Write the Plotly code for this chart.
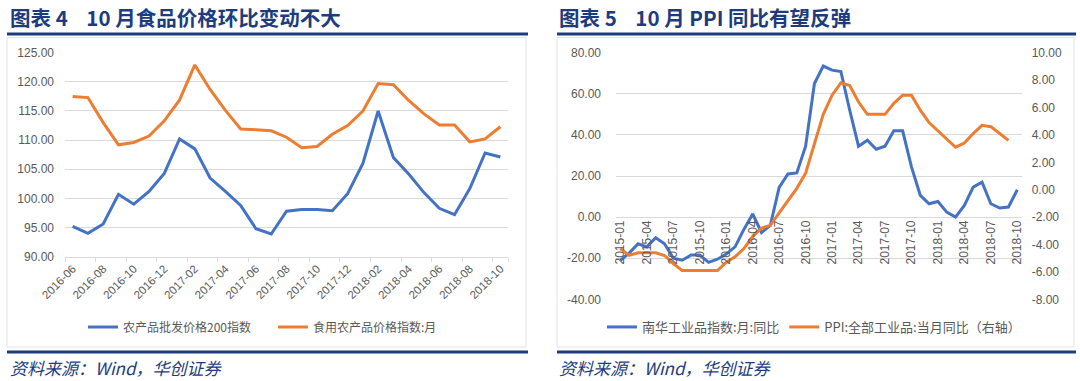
import plotly.graph_objects as go

W, H = 1080, 381

# ---------------- data ----------------
left_months = ["2016-06", "2016-07", "2016-08", "2016-09", "2016-10", "2016-11", "2016-12",
               "2017-01", "2017-02", "2017-03", "2017-04", "2017-05", "2017-06", "2017-07",
               "2017-08", "2017-09", "2017-10", "2017-11", "2017-12", "2018-01", "2018-02",
               "2018-03", "2018-04", "2018-05", "2018-06", "2018-07", "2018-08", "2018-09",
               "2018-10"]
farm_200 = [95.2, 94.0, 95.6, 100.7, 99.0, 101.2, 104.3, 110.2, 108.5, 103.5, 101.2, 98.8,
            94.8, 93.9, 97.8, 98.1, 98.1, 97.9, 100.8, 106.0, 115.0, 107.0, 104.2, 101.0,
            98.3, 97.2, 101.7, 107.8, 107.1]
food_price = [117.5, 117.3, 113.0, 109.2, 109.6, 110.7, 113.3, 116.9, 122.9, 118.7, 115.1,
              111.9, 111.8, 111.6, 110.5, 108.7, 108.9, 111.0, 112.5, 115.0, 119.7, 119.5,
              116.8, 114.5, 112.6, 112.6, 109.7, 110.2, 112.3]
left_yticks = [90, 95, 100, 105, 110, 115, 120, 125]

right_months = [f"{y}-{m:02d}" for y in (2015, 2016, 2017, 2018) for m in range(1, 13)][:46]
nanhua = [-21, -17.5, -13, -14.5, -10, -13, -20, -21, -18.5, -18.5, -22, -20.5,
          -18, -14.5, -6, 1.5, -7.5, -4, 14.5, 21, 21.5, 34.5, 65, 73.5,
          71.5, 70.8, 52, 34.5, 37.4, 33, 34.5, 42, 42, 24.4, 10.6, 6.5,
          7.6, 2.4, 0, 5.7, 14.6, 17, 6.5, 4.4, 4.9, 13.3]
ppi = [-4.3, -4.8, -4.6, -4.6, -4.6, -4.8, -5.4, -5.9, -5.9, -5.9, -5.9, -5.9,
       -5.3, -4.9, -4.3, -3.4, -2.8, -2.6, -1.7, -0.8, 0.1, 1.2, 3.3, 5.5,
       6.9, 7.8, 7.6, 6.4, 5.5, 5.5, 5.5, 6.3, 6.9, 6.9, 5.8, 4.9,
       4.3, 3.7, 3.1, 3.4, 4.1, 4.7, 4.6, 4.1, 3.6, None]
right_yticks_l = [-40, -20, 0, 20, 40, 60, 80]
right_yticks_r = [-8, -6, -4, -2, 0, 2, 4, 6, 8, 10]

# ---------------- style ----------------
BLUE = "#4472C4"
ORANGE = "#ED7D31"
NAVY = "#1D3C7E"
GRID = "#D9D9D9"
TXT = "#595959"
TICKFONT = dict(family="Liberation Sans", size=12, color=TXT)
CJK = "Noto Sans CJK SC"


def px(x):
    return x / W


def py(y):
    return 1 - y / H


fig = go.Figure()

# left chart
fig.add_trace(go.Scatter(x=left_months, y=farm_200, name="农产品批发价格200指数", mode="lines",
                         line=dict(color=BLUE, width=3), xaxis="x", yaxis="y", legend="legend"))
fig.add_trace(go.Scatter(x=left_months, y=food_price, name="食用农产品价格指数:月", mode="lines",
                         line=dict(color=ORANGE, width=3), xaxis="x", yaxis="y", legend="legend"))
# right chart
fig.add_trace(go.Scatter(x=right_months, y=nanhua, name="南华工业品指数:月:同比", mode="lines",
                         line=dict(color=BLUE, width=3), xaxis="x2", yaxis="y3", legend="legend2"))
fig.add_trace(go.Scatter(x=right_months, y=ppi, name="PPI:全部工业品:当月同比（右轴）", mode="lines",
                         line=dict(color=ORANGE, width=3), xaxis="x2", yaxis="y4", legend="legend2"))

L_top, L_bot = 52.7, 256.7
R_top, R_bot = 52.7, 299.3
r_dom = [py(R_bot), py(R_top)]
zero_pos = r_dom[0] + (r_dom[1] - r_dom[0]) * 40 / 120

legend_common = dict(orientation="h", xanchor="left", y=py(327), yanchor="middle",
                     bgcolor="rgba(0,0,0,0)")

fig.update_layout(
    template="none",
    width=W, height=H,
    margin=dict(l=0, r=0, t=0, b=0, autoexpand=False),
    paper_bgcolor="white", plot_bgcolor="white",
    xaxis=dict(domain=[px(65), px(508)], type="category", range=[-0.5, len(left_months) - 0.5],
               tickvals=left_months[::2], ticktext=left_months[::2], tickangle=-45,
               tickson="boundaries", ticks="outside", ticklen=4, tickcolor=GRID,
               showgrid=False, showline=True, linecolor=GRID, linewidth=1, automargin=False,
               tickfont=dict(family="Liberation Sans", size=11.5, color=TXT), anchor="y"),
    yaxis=dict(domain=[py(L_bot), py(L_top)], range=[90, 125], tickvals=left_yticks,
               ticktext=[f"{v:.2f}" for v in left_yticks], showgrid=True, gridcolor=GRID,
               gridwidth=1, zeroline=False, showline=False, ticks="", ticklabelstandoff=10,
               automargin=False, tickfont=TICKFONT, anchor="x"),
    xaxis2=dict(domain=[px(616), px(1021.7)], type="category", range=[-0.5, len(right_months) - 0.5],
                tickvals=right_months[::3], ticktext=right_months[::3], tickangle=-90,
                ticks="", showgrid=False, showline=False, anchor="free", position=zero_pos,
                automargin=False, tickfont=dict(family="Liberation Sans", size=12, color=TXT)),
    yaxis3=dict(domain=r_dom, range=[-40, 80], tickvals=right_yticks_l,
                ticktext=[f"{v:.2f}" for v in right_yticks_l], showgrid=True, gridcolor=GRID,
                zeroline=False, showline=False, ticks="", ticklabelstandoff=14,
                automargin=False, tickfont=TICKFONT, anchor="x2"),
    yaxis4=dict(domain=r_dom, range=[-8, 10], tickvals=right_yticks_r,
                ticktext=[f"{v:.2f}" for v in right_yticks_r], overlaying="y3", side="right",
                showgrid=False, zeroline=False, showline=False, ticks="", ticklabelstandoff=9,
                automargin=False, tickfont=TICKFONT, anchor="x2"),
    legend=dict(x=px(83), font=dict(family=CJK, size=12, color=TXT),
                entrywidth=145, entrywidthmode="pixels", **legend_common),
    legend2=dict(x=px(602), font=dict(family=CJK, size=13, color=TXT), **legend_common),
    showlegend=True,
)

shapes = []
for (x0, x1, fx1) in [(7, 528, 526), (557, 1076, 1074)]:
    shapes.append(dict(type="rect", xref="paper", yref="paper", x0=px(x0), x1=px(fx1),
                       y0=py(347), y1=py(37.5), line=dict(color="#E3E3E3", width=1)))
    shapes.append(dict(type="line", xref="paper", yref="paper", x0=px(x0), x1=px(x1),
                       y0=py(34), y1=py(34), line=dict(color=NAVY, width=3)))
    shapes.append(dict(type="line", xref="paper", yref="paper", x0=px(x0), x1=px(x1),
                       y0=py(352), y1=py(352), line=dict(color=NAVY, width=3)))
fig.update_layout(shapes=shapes)

annotations = [
    dict(text="<b>图表 4    10 月食品价格环比变动不大</b>", x=px(8), y=py(17)),
    dict(text="<b>图表 5    10 月 PPI 同比有望反弹</b>", x=px(557), y=py(17)),
]
for a in annotations:
    a.update(xref="paper", yref="paper", xanchor="left", yanchor="middle", showarrow=False,
             font=dict(family=CJK, size=20.5, color=NAVY))
for xx in (8, 557):
    annotations.append(dict(text="<i>资料来源：Wind，华创证券</i>", x=px(xx), y=py(367),
                            xref="paper", yref="paper", xanchor="left", yanchor="middle",
                            showarrow=False, font=dict(family=CJK, size=17, color=NAVY)))
fig.update_layout(annotations=annotations)

fig.write_html(
    "out.html",
    config={"displayModeBar": False},
    post_script="document.body.style.margin='0';document.body.style.overflow='hidden';",
)
